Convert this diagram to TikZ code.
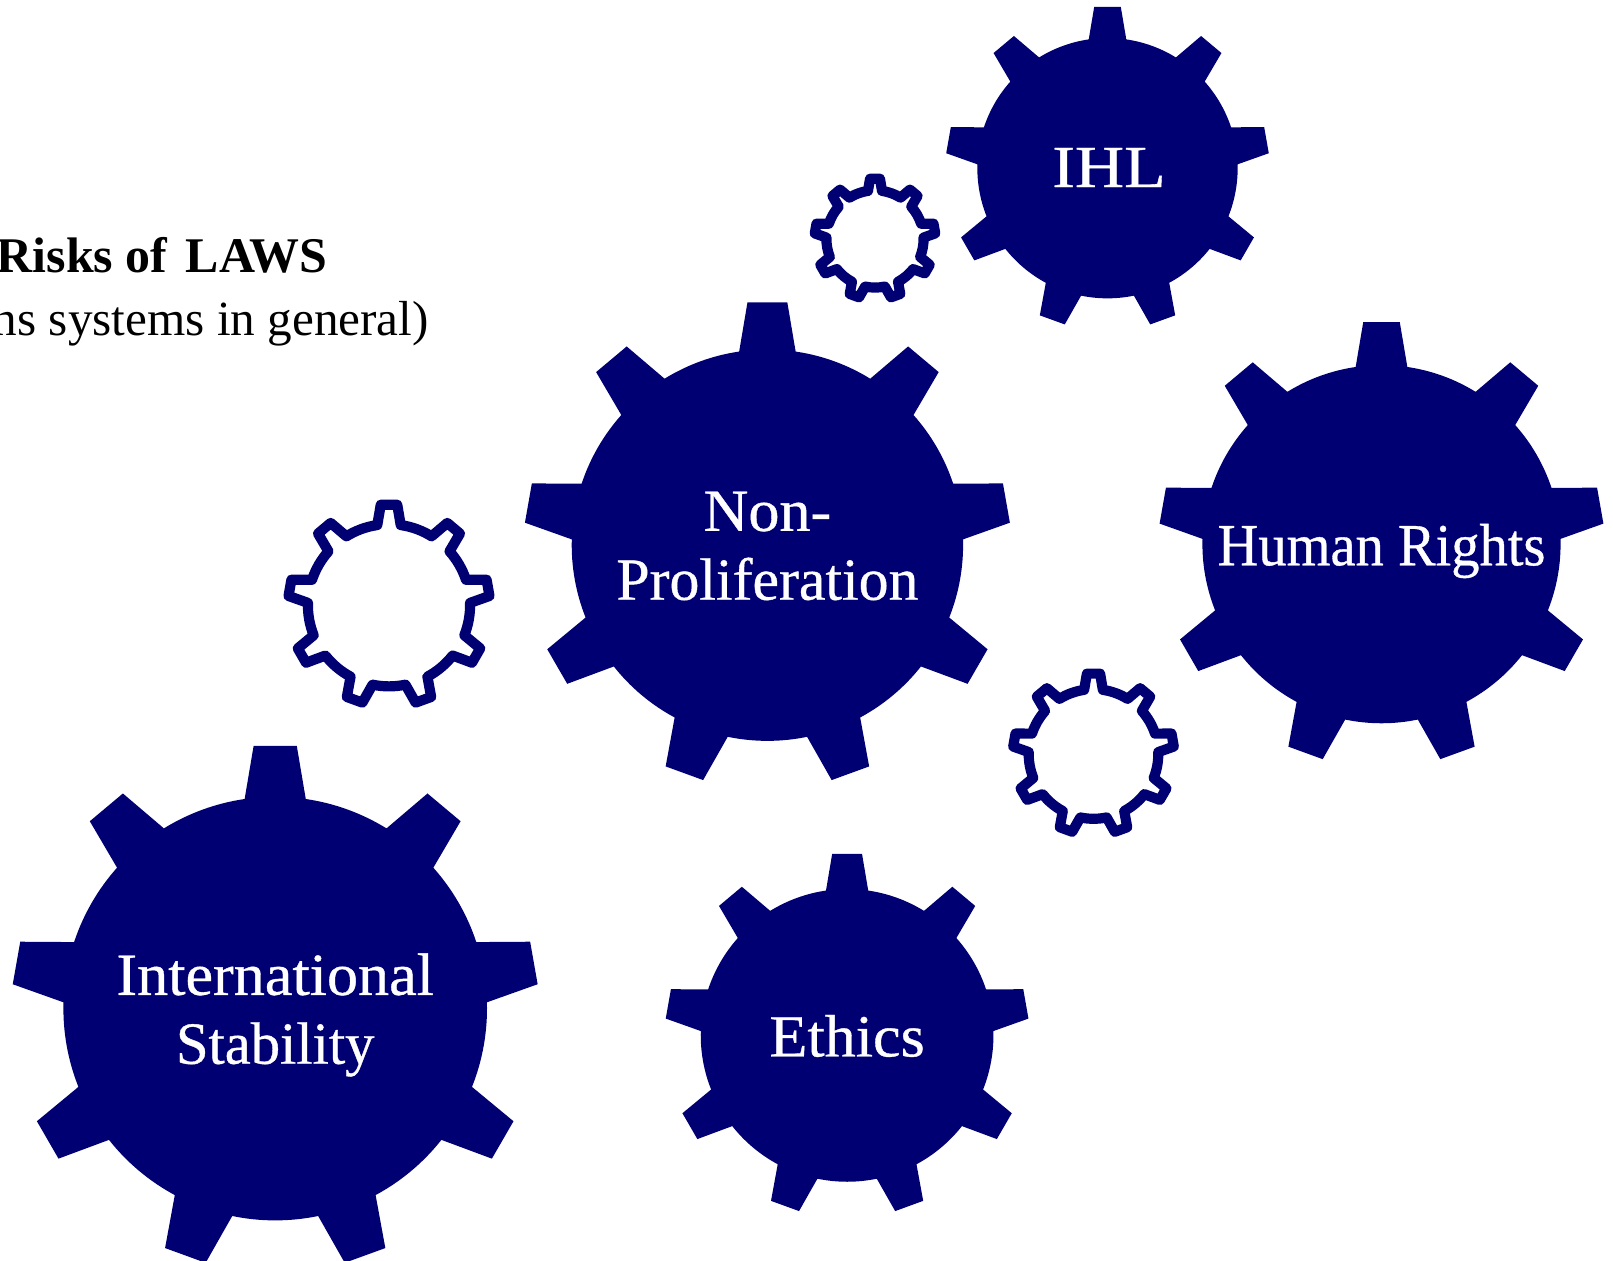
\documentclass[tikz,border=0pt]{standalone}
\usepackage{fontspec}
\setmainfont{Liberation Serif}
\newfontfamily\gearfont[FakeBold=0.6]{Liberation Serif}
\definecolor{gearblue}{HTML}{000073}
\tikzset{
  solidgear/.style={fill=gearblue},
  opengear/.style={draw=gearblue,line width=2.9pt,line join=round},
  gearlabel/.style={text=white,align=center,inner sep=0pt,font=\gearfont\fontsize{17}{19.6}\selectfont},
}
\newcommand{\gearpath}{(98.3:.806) \foreach \k [evaluate=\k as \a using 90-40*\k] in {0,...,8} {-- (\a+8.3:.806) -- (\a+4.7:1.003) -- (\a-4.7:1.003) -- (\a-8.3:.806) arc[start angle=\a-8.3,end angle=\a-31.7,radius=.806]} -- cycle}
\newcommand{\widen}[2]{\scalebox{#1}[1]{#2}}
\begin{document}
\begin{tikzpicture}
\useasboundingbox (0,0) rectangle (16.13,12.61);
\path [solidgear,shift={(2.752,2.524)},scale=2.628] \gearpath;
\path [solidgear,shift={(7.674,7.158)},scale=2.428] \gearpath;
\path [solidgear,shift={(13.815,7.168)},scale=2.222] \gearpath;
\path [solidgear,shift={(8.471,2.256)},scale=1.816] \gearpath;
\path [solidgear,shift={(11.075,10.928)},scale=1.615] \gearpath;
\path [opengear,shift={(3.89,6.557)},scale=1.006] \gearpath;
\path [opengear,shift={(8.75,10.22)},scale=.603] \gearpath;
\path [opengear,shift={(10.935,5.07)},scale=.804] \gearpath;
\node [gearlabel] (stability) at (2.752,2.46) {\widen{1.04}{International}\\\widen{.98}{Stability}};
\node [gearlabel] (proliferation) at (7.674,7.15) {\widen{1.04}{Non-}\\\widen{1.0}{Proliferation}};
\node [gearlabel] (rights) at (13.815,7.10) {\widen{.945}{Human Rights}};
\node [gearlabel] (ethics) at (8.471,2.25) {\widen{1.04}{Ethics}};
\node [gearlabel] (ihl) at (11.09,10.935) {\widen{1.14}{IHL}};
\node [anchor=base east,inner sep=0pt,font=\fontsize{14.2}{17}\selectfont\bfseries] (risks) at (3.28,9.885) {Risks of\hspace{.12em} LAWS};
\node [anchor=base east,inner sep=0pt,font=\fontsize{14}{17}\selectfont] (systems) at (4.295,9.25) {ns systems in general)};
\end{tikzpicture}
\end{document}
